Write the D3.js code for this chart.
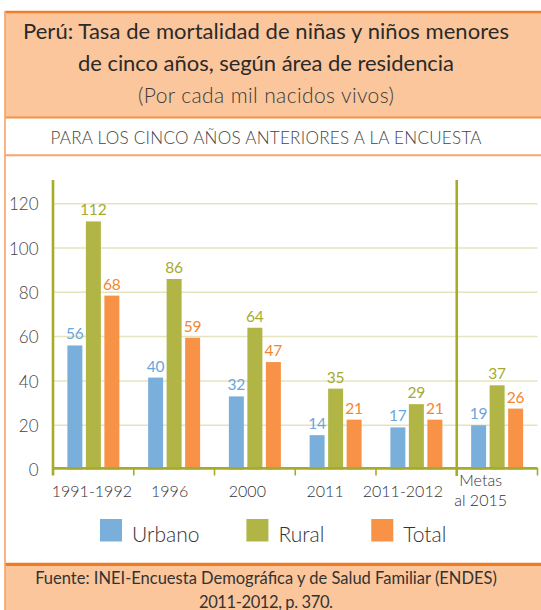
<!DOCTYPE html>
<html><head><meta charset="utf-8">
<script src="https://cdn.jsdelivr.net/npm/d3@7"></script>
<style>
html,body{margin:0;padding:0;background:#fff;}
svg{display:block;font-family:Lato,"Open Sans",sans-serif;}
</style></head>
<body><svg id="chart" width="541" height="610"></svg>
<script>
// ---- data ----
const categories = ["1991-1992","1996","2000","2011","2011-2012","Metas al 2015"];
const seriesNames = ["Urbano","Rural","Total"];
const urbano = [56, 41.5, 33, 15.5, 19, 20];
const rural  = [112, 86, 64, 36.5, 29.5, 38];
const total  = [78.5, 59.5, 48.5, 22.5, 22.5, 27.5];
const urbanoLabels = ["56","40","32","14","17","19"];
const ruralLabels  = ["112","86","64","35","29","37"];
const totalLabels  = ["68","59","47","21","21","26"];
const yTicks = [0,20,40,60,80,100,120];
const titleLines = ["Perú: Tasa de mortalidad de niñas y niños menores","de cinco años, según área de residencia"];
const subtitle = "(Por cada mil nacidos vivos)";
const band = "PARA LOS CINCO AÑOS ANTERIORES A LA ENCUESTA";
const sourceLines = ["Fuente: INEI-Encuesta Demográfica y de Salud Familiar (ENDES)","2011-2012, p. 370."];

const colors = {Urbano:"#7AAFDB", Rural:"#B0B546", Total:"#F79246"};
const labelColors = {Urbano:"#6AA6DA", Rural:"#A5AA30", Total:"#F5862F"};
const values = {Urbano:urbano, Rural:rural, Total:total};
const labels = {Urbano:urbanoLabels, Rural:ruralLabels, Total:totalLabels};

const svg = d3.select("#chart");

// fit a text element to a target width by adjusting spacing
function fit(sel, w){
  sel.each(function(){
    const n = this; const cur = n.getComputedTextLength();
    if (Math.abs(cur - w) > 1) d3.select(n).attr("textLength", w).attr("lengthAdjust","spacing");
  });
}

// ---- frame ----
svg.append("rect").attr("x",5).attr("y",12).attr("width",560).attr("height",105).attr("fill","#FBC69C");
svg.append("rect").attr("x",5).attr("y",565).attr("width",560).attr("height",50).attr("fill","#FBC69C");
svg.append("line").attr("x1",5).attr("x2",560).attr("y1",12).attr("y2",12).attr("stroke","#F07F2A").attr("stroke-width",2.5);
svg.append("line").attr("x1",5).attr("x2",560).attr("y1",117.5).attr("y2",117.5).attr("stroke","#F59246").attr("stroke-width",2);
svg.append("line").attr("x1",5).attr("x2",560).attr("y1",155.3).attr("y2",155.3).attr("stroke","#F9A46C").attr("stroke-width",2);
svg.append("line").attr("x1",5).attr("x2",560).attr("y1",564.3).attr("y2",564.3).attr("stroke","#F07A22").attr("stroke-width",3.2);
svg.append("line").attr("x1",5).attr("x2",5).attr("y1",11).attr("y2",610).attr("stroke","#F8A266").attr("stroke-width",1.6);

// ---- header texts ----
const cx = 266;
const titleWidths = [486, 376];
svg.selectAll("text.title").data(titleLines).join("text").attr("class","title")
  .attr("x",cx).attr("y",(d,i)=>38.5+i*32).attr("text-anchor","middle")
  .attr("font-size",22).attr("fill","#2a2a2a").text(d=>d)
  .each(function(d,i){ fit(d3.select(this), titleWidths[i]); });
svg.append("text").attr("x",cx).attr("y",102.5).attr("text-anchor","middle")
  .attr("font-size",21).attr("font-weight",300).attr("fill","#3a3a3a").text(subtitle)
  .call(s=>fit(s,256));
svg.append("text").attr("x",cx).attr("y",143.5).attr("text-anchor","middle")
  .attr("font-size",17).attr("font-weight",300).attr("fill","#444").text(band)
  .call(s=>fit(s,431));
const srcWidths = [462, 134];
svg.selectAll("text.src").data(sourceLines).join("text").attr("class","src")
  .attr("x",cx).attr("y",(d,i)=>584+i*23.5).attr("text-anchor","middle")
  .attr("font-size",16.5).attr("fill","#333").text(d=>d)
  .each(function(d,i){ fit(d3.select(this), srcWidths[i]); });

// ---- scales ----
const x = d3.scaleBand().domain(categories).range([53,537.5]).paddingInner(0).paddingOuter(0);
const bw = x.bandwidth();
const x1 = d3.scaleBand().domain(seriesNames).range([bw/2-26, bw/2+26]).paddingInner(0.19).paddingOuter(0);
const xLab = d3.scaleBand().domain(categories).range([53,519.5]);
const y = d3.scaleLinear().domain([0,120]).range([469.5,203.7]);

const axisColor = "#A7AC28";

// gridlines
svg.append("g").selectAll("line").data(yTicks.filter(t=>t>0)).join("line")
  .attr("x1",53).attr("x2",537.5).attr("y1",d=>y(d)).attr("y2",d=>y(d))
  .attr("stroke","#E4E5BE").attr("stroke-width",1.5);

// y tick labels via axis
const yAxis = svg.append("g").attr("transform","translate(53,0)")
  .call(d3.axisLeft(y).tickValues(yTicks).tickSize(0).tickPadding(14.5));
yAxis.select(".domain").remove();
yAxis.selectAll("text").attr("font-family","Lato").attr("font-size",17).attr("font-weight",300).attr("fill","#444").attr("dy","0.36em");

// bars
const groups = svg.append("g").selectAll("g").data(categories).join("g")
  .attr("transform",d=>`translate(${x(d)},0)`);
groups.selectAll("rect").data((d,i)=>seriesNames.map(s=>({s, v:values[s][i], l:labels[s][i]}))).join("rect")
  .attr("x",d=>x1(d.s)).attr("width",x1.bandwidth())
  .attr("y",d=>y(d.v)).attr("height",d=>y(0)-y(d.v)).attr("fill",d=>colors[d.s]);
groups.selectAll("text").data((d,i)=>seriesNames.map(s=>({s, v:values[s][i], l:labels[s][i]}))).join("text")
  .attr("x",d=>x1(d.s)+x1.bandwidth()/2).attr("y",d=>y(d.v)-6).attr("text-anchor","middle")
  .attr("font-size",15.5).attr("fill",d=>labelColors[d.s]).text(d=>d.l);

// axes lines
svg.append("line").attr("x1",53).attr("x2",53).attr("y1",180).attr("y2",475.5).attr("stroke",axisColor).attr("stroke-width",2.6);
svg.append("line").attr("x1",53).attr("x2",537.5).attr("y1",468.3).attr("y2",468.3).attr("stroke",axisColor).attr("stroke-width",2.7);
// separator before goals
svg.append("line").attr("x1",x(categories[5])).attr("x2",x(categories[5])).attr("y1",180).attr("y2",476)
  .attr("stroke",axisColor).attr("stroke-width",2.6);
// ticks
const tickPos = categories.slice(1).map(c=>x(c)).concat([x(categories[5])+bw]);
svg.append("g").selectAll("line").data(tickPos).join("line")
  .attr("x1",d=>d).attr("x2",d=>d).attr("y1",468).attr("y2",475.5).attr("stroke",axisColor).attr("stroke-width",1.6);

// x labels
const xl = svg.append("g").selectAll("text").data(categories).join("text")
  .attr("x",d=>xLab(d)+xLab.bandwidth()/2).attr("text-anchor","middle")
  .attr("font-size",16).attr("font-weight",300).attr("fill","#333");
xl.each(function(d){
  const t = d3.select(this);
  if(d==="Metas al 2015"){
    t.attr("y",486);
    t.append("tspan").attr("x",xLab(d)+xLab.bandwidth()/2).attr("dy",0).text("Metas");
    t.append("tspan").attr("x",xLab(d)+xLab.bandwidth()/2).attr("dy",20).text("al 2015");
  } else {
    t.attr("y",497).text(d);
  }
});

// legend
let lx = 100;
const leg = svg.append("g");
seriesNames.forEach(s=>{
  leg.append("rect").attr("x",lx).attr("y",519).attr("width",22).attr("height",22.5).attr("fill",colors[s]);
  const t = leg.append("text").attr("x",lx+32).attr("y",541.5).attr("font-size",21).attr("font-weight",300).attr("fill","#333").text(s);
  lx += 32 + t.node().getComputedTextLength() + 47;
});
</script></body></html>
